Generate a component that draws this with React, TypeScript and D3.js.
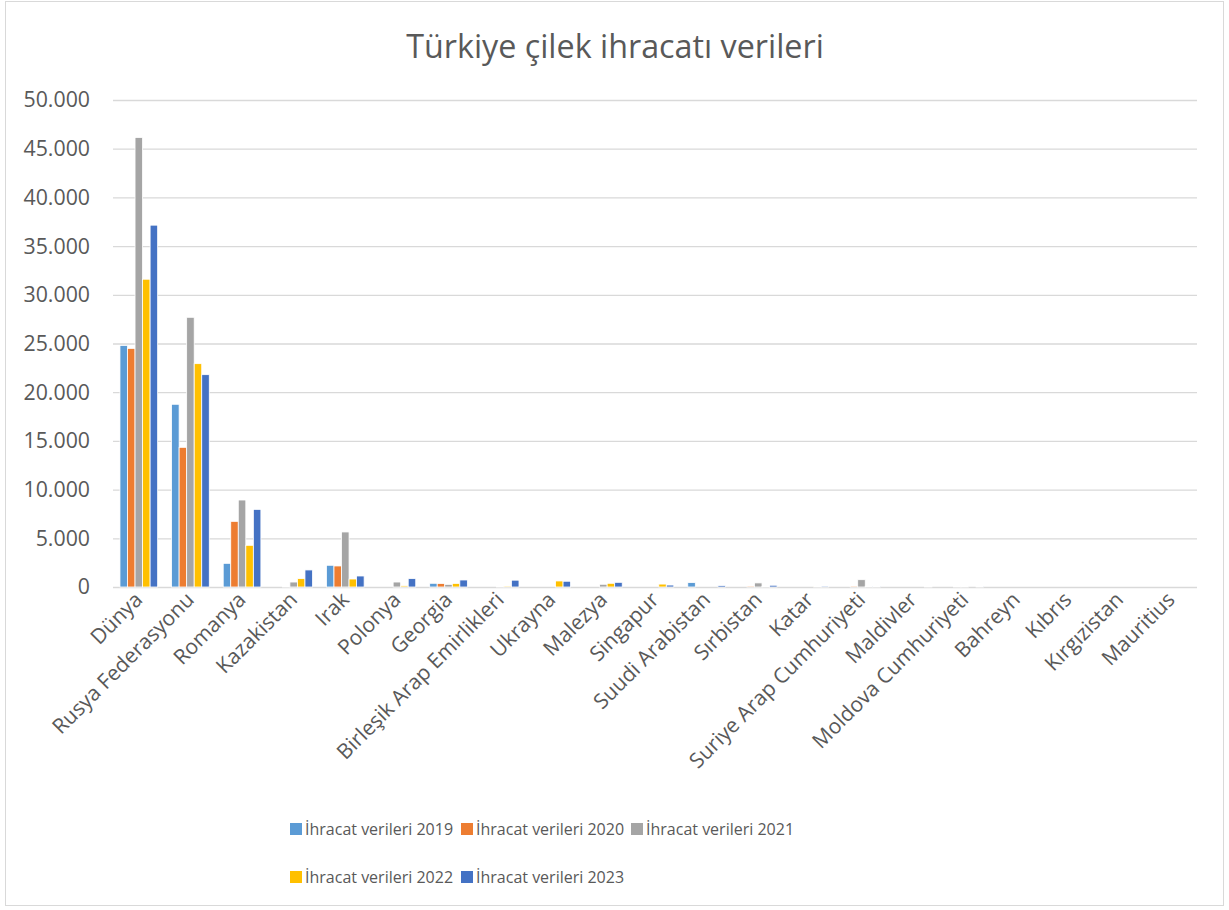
import React from "react";
import * as d3 from "d3";

const categories = [
  "Dünya",
  "Rusya Federasyonu",
  "Romanya",
  "Kazakistan",
  "Irak",
  "Polonya",
  "Georgia",
  "Birleşik Arap Emirlikleri",
  "Ukrayna",
  "Malezya",
  "Singapur",
  "Suudi Arabistan",
  "Sırbistan",
  "Katar",
  "Suriye Arap Cumhuriyeti",
  "Maldivler",
  "Moldova Cumhuriyeti",
  "Bahreyn",
  "Kıbrıs",
  "Kırgızistan",
  "Mauritius",
];

const seriesNames = [
  "İhracat verileri 2019",
  "İhracat verileri 2020",
  "İhracat verileri 2021",
  "İhracat verileri 2022",
  "İhracat verileri 2023",
];

const seriesColors = ["#5B9BD5", "#ED7D31", "#A5A5A5", "#FFC000", "#4472C4"];

const values2019 = [24800, 18760, 2430, 0, 2230, 0, 380, 0, 0, 0, 0, 450, 0, 0, 0, 0, 0, 0, 0, 0, 0];
const values2020 = [24500, 14340, 6740, 50, 2160, 0, 360, 0, 0, 0, 0, 0, 100, 0, 100, 0, 60, 0, 0, 0, 0];
const values2021 = [46150, 27690, 8930, 510, 5650, 510, 270, 80, 0, 280, 0, 0, 420, 0, 750, 0, 60, 0, 0, 0, 0];
const values2022 = [31600, 22930, 4280, 860, 820, 120, 370, 100, 620, 380, 300, 0, 50, 50, 80, 0, 0, 0, 0, 0, 0];
const values2023 = [37150, 21800, 7970, 1750, 1130, 860, 720, 700, 590, 480, 200, 150, 180, 100, 80, 60, 60, 0, 0, 0, 0];

const seriesValues = [values2019, values2020, values2021, values2022, values2023];

const yTicks = [0, 5000, 10000, 15000, 20000, 25000, 30000, 35000, 40000, 45000, 50000];

const chartTitle = "Türkiye çilek ihracatı verileri";

const W = 1229;
const H = 910;
const textColor = "#595959";
const gridColor = "#D9D9D9";
const font = "'Open Sans', sans-serif";

const locale = d3.formatLocale({ decimal: ",", thousands: ".", grouping: [3], currency: ["", ""] });
const fmt = locale.format(",d");

export default function App() {
  const left = 113;
  const right = 1197;
  const top = 100;
  const bottom = 587;

  const y = d3.scaleLinear().domain([0, 50000]).range([bottom, top]);
  const x0 = d3.scaleBand<string>().domain(categories).range([left, right]).paddingInner(0.27).paddingOuter(0.135);
  const x1 = d3.scaleBand<string>().domain(seriesNames).range([0, x0.bandwidth()]).padding(0);

  const legendCols = [290, 461, 631];
  const legendRows = [829, 877];

  return (
    <svg width={W} height={H} style={{ position: "absolute", left: 0, top: 0, background: "#fff" }} fontFamily={font}>
      <rect x={5.5} y={1.5} width={1218} height={904} fill="#fff" stroke={gridColor} strokeWidth={1} />
      <text x={615} y={58} textAnchor="middle" fontSize={32.3} fill={textColor}>
        {chartTitle}
      </text>
      {yTicks.map((t) => (
        <g key={t}>
          <line x1={left} x2={right} y1={y(t) + 0.5} y2={y(t) + 0.5} stroke={gridColor} strokeWidth={1.3} />
          <text x={90} y={y(t)} dy="0.35em" textAnchor="end" fontSize={21.3} fill={textColor}>
            {fmt(t)}
          </text>
        </g>
      ))}
      {categories.map((c, i) => (
        <g key={c} transform={`translate(${x0(c)!},0)`}>
          {seriesNames.map((s, j) => {
            const v = seriesValues[j][i];
            const yv = y(v);
            return (
              <rect
                key={s}
                x={x1(s)!}
                y={yv}
                width={x1.bandwidth()}
                height={Math.max(0, bottom - yv)}
                fill={seriesColors[j]}
                stroke="#fff"
                strokeWidth={0.8}
              />
            );
          })}
        </g>
      ))}
      {categories.map((c) => {
        const cx = x0(c)! + x0.bandwidth() / 2 + 5;
        const cy = 601;
        return (
          <text
            key={c}
            transform={`translate(${cx},${cy}) rotate(-45)`}
            textAnchor="end"
            fontSize={21}
            fill={textColor}
          >
            {c}
          </text>
        );
      })}
      {seriesNames.map((s, j) => {
        const col = j % 3;
        const row = Math.floor(j / 3);
        const lx = legendCols[col];
        const ly = legendRows[row];
        return (
          <g key={s}>
            <rect x={lx} y={ly - 6} width={12} height={12} fill={seriesColors[j]} />
            <text x={lx + 15} y={ly} dy="0.35em" fontSize={16} fill={textColor}>
              {s}
            </text>
          </g>
        );
      })}
    </svg>
  );
}
